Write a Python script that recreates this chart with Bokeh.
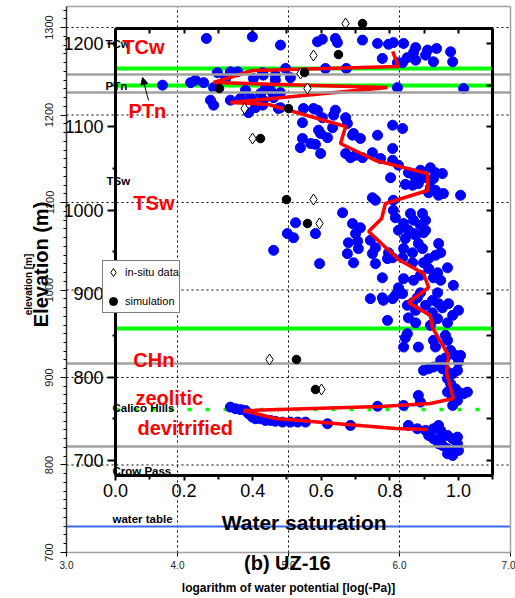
import numpy as np
from bokeh.plotting import figure
from bokeh.models import (Range1d, LinearAxis, FixedTicker, Label, Legend, LegendItem,
                          Arrow, NormalHead, CustomJSTickFormatter, NumeralTickFormatter)
from bokeh.core.properties import value
from bokeh.embed import file_html
from bokeh.resources import INLINE

FONT = "Liberation Sans"

# ---------------- data ----------------
# measured water saturation (foreground axes)
sat_obs = [
    0.265, 0.399, 0.481, 0.589, 0.603, 0.641, 0.647, 0.720, 0.764, 0.796, 0.810, 0.840, 0.875, 0.910,
    0.936, 0.977, 0.778, 0.851, 0.837, 0.869, 0.875, 0.904, 0.927, 0.983, 0.822, 0.673, 0.612, 0.496,
    0.137, 0.219, 0.233, 0.257, 0.286, 0.297, 0.335, 0.356, 0.321, 0.402, 0.431, 0.466, 0.429, 0.510,
    0.466, 0.437, 0.452, 0.461, 0.423, 0.481, 0.379, 0.822, 1.015,
    0.277, 0.286, 0.335, 0.364, 0.394, 0.408, 0.429, 0.461, 0.388, 0.431, 0.475, 0.548, 0.577, 0.589,
    0.641, 0.545, 0.603, 0.636, 0.633, 0.592, 0.671, 0.676, 0.694, 0.764, 0.808, 0.837, 0.598, 0.618,
    0.545, 0.691, 0.714, 0.481, 0.408,
    0.539, 0.569, 0.583, 0.598, 0.671, 0.685, 0.700, 0.720, 0.808, 0.749, 0.773, 0.808, 0.825, 0.802,
    0.889, 0.918, 0.933, 0.953, 0.898, 0.927, 0.845, 0.866, 0.883, 0.918, 0.933, 0.913, 0.942, 0.956,
    1.006, 0.749, 0.758, 0.810, 0.854, 0.869,
    0.662, 0.810, 0.816, 0.860, 0.869, 0.895, 0.904, 0.840, 0.889, 0.691, 0.714, 0.525, 0.501, 0.519,
    0.583, 0.461, 0.595, 0.700, 0.706, 0.679, 0.708, 0.676, 0.743, 0.758, 0.749, 0.694, 0.758, 0.793,
    0.854, 0.825, 0.869, 0.904, 0.845, 0.883, 0.942, 0.840, 0.866, 0.895, 0.948, 0.796, 0.808, 0.837,
    0.875, 0.898, 0.913, 0.933, 0.866, 0.898, 0.913, 0.939, 0.968, 0.889, 0.927, 0.948, 0.985, 0.869,
    0.840, 0.778, 0.825, 0.837, 0.816, 0.778, 0.743, 0.939, 0.889, 0.880,
    0.781, 0.808, 0.851, 0.866, 0.875, 0.904, 0.924, 0.942, 0.953, 0.971, 0.924, 1.000, 0.983, 0.968,
    0.939, 0.918, 0.854, 0.875, 0.793, 0.851, 0.845, 0.840, 0.883, 0.927, 0.933, 0.962, 0.968, 0.977,
    0.991, 1.006, 1.000, 0.962, 0.948, 0.953, 0.968, 0.983, 0.997, 0.898, 0.913, 0.927, 0.968, 0.977,
    0.991, 1.000, 1.015, 1.026, 0.968, 0.983, 0.997, 0.883, 0.889,
    0.840, 0.764, 0.983, 0.335, 0.350, 0.364, 0.379, 0.388, 0.399, 0.408, 0.423, 0.437, 0.452, 0.466,
    0.487, 0.510, 0.531, 0.554, 0.618, 0.685, 0.854, 0.880, 0.904, 0.927, 0.942, 0.948, 0.913, 0.927,
    0.948, 0.942, 0.968, 0.983, 0.997, 0.953, 0.968, 0.997, 0.983, 1.000, 0.968, 0.983,
]
elev_obs = [
    1206, 1208, 1198, 1202, 1205, 1206, 1201, 1204, 1200, 1199, 1201, 1200, 1195, 1192,
    1194, 1190, 1182, 1183, 1177, 1189, 1180, 1186, 1178, 1178, 1177, 1170, 1170, 1170,
    1150, 1153, 1156, 1153, 1147, 1165, 1166, 1166, 1158, 1158, 1162, 1162, 1165, 1159,
    1156, 1146, 1144, 1139, 1140, 1141, 1144, 1147, 1146,
    1132, 1126, 1132, 1134, 1135, 1129, 1126, 1135, 1117, 1132, 1122, 1122, 1122, 1120,
    1120, 1105, 1111, 1114, 1099, 1096, 1111, 1104, 1092, 1090, 1102, 1098, 1092, 1087,
    1086, 1090, 1086, 1123, 1123,
    1075, 1080, 1079, 1068, 1068, 1063, 1066, 1063, 1074, 1069, 1062, 1060, 1054, 1039,
    1048, 1051, 1045, 1044, 1039, 1038, 1031, 1030, 1032, 1027, 1024, 1021, 1018, 1020,
    1018, 1015, 1012, 1012, 1045, 1042,
    997, 1000, 991, 996, 988, 996, 988, 984, 982, 984, 979, 985, 972, 967,
    972, 952, 936, 972, 963, 961, 954, 948, 964, 955, 948, 937, 936, 942,
    976, 976, 972, 976, 966, 960, 960, 954, 949, 954, 949, 949, 943, 943,
    970, 973, 942, 946, 937, 937, 930, 925, 931, 922, 919, 916, 910, 916,
    918, 919, 907, 900, 898, 895, 894, 901, 901, 895,
    892, 894, 886, 889, 880, 886, 892, 888, 883, 888, 877, 880, 874, 865,
    870, 862, 871, 865, 868, 852, 847, 836, 836, 844, 836, 850, 844, 832,
    826, 826, 818, 823, 820, 810, 806, 804, 808, 808, 810, 812, 798, 792,
    786, 782, 780, 782, 782, 776, 772, 778, 770,
    766, 765, 766, 764, 762, 761, 760, 756, 752, 750, 750, 748, 748, 747,
    746, 746, 746, 746, 744, 742, 742, 738, 736, 738, 742, 736, 730, 726,
    726, 720, 730, 726, 728, 718, 714, 720, 712, 712, 708, 706,
]

# simulated saturation profile (foreground axes)
sat_sim = [0.808, 0.825, 0.399, 0.286, 0.793, 0.335, 0.446, 0.671, 0.656, 0.758, 0.910, 0.910,
           0.787, 0.776, 0.738, 0.825, 0.898, 0.913, 0.854, 0.918, 0.924, 0.971, 0.965, 0.985,
           0.918, 0.773, 0.373, 0.466, 0.816, 0.910]
elev_sim = [1190.4, 1172.4, 1167.6, 1153.2, 1147.2, 1129.2, 1126.8, 1100.4, 1080.0, 1059.7, 1044.1, 1023.7,
            1008.1, 990.1, 974.5, 941.0, 924.2, 907.4, 889.4, 873.8, 859.4, 825.9, 805.5, 774.3,
            768.3, 764.7, 759.9, 750.3, 738.3, 737.1]

# water potential (background axes)
logpot_insitu = [5.514, 5.225, 5.108, 5.171, 4.604, 4.676, 5.225, 5.279, 4.829, 5.297]
elev_insitu = [1304.6, 1268.0, 1247.4, 1230.3, 1207.4, 1173.1, 1103.4, 1076.0, 920.6, 886.3]
logpot_simulated = [5.667, 5.450, 5.144, 4.378, 5.000, 4.748, 4.982, 5.171, 5.072, 5.243]
elev_simulated = [1304.6, 1269.1, 1248.6, 1230.3, 1207.4, 1173.1, 1103.4, 1076.0, 920.6, 886.3]

# unit boundaries
gray_bounds = [1246.3, 1225.7, 916.0, 821.1]        # background elevation
water_table = [729.7]                               # background elevation
green_bounds = [1170.0, 1149.6, 858.2]              # foreground elevation
green_dotted = [761.1]                              # foreground elevation

unit_names = ["TCw", "PTn", "TSw", "Calico Hills", "Crow Pass", "water table"]
unit_x = [3.351, 3.351, 3.36, 3.414, 3.414, 3.414]
unit_y = [1281.7, 1233.7, 1125.1, 865.7, 792.6, 737.7]

red_names = ["TCw", "PTn", "TSw", "CHn", "zeolitic", "devitrified"]
red_x = [0.020, 0.038, 0.052, 0.052, 0.058, 0.064]
red_y = [1196.3, 1119.6, 1009.3, 819.9, 774.3, 739.5]

# axes
bg_x_ticks = [3.0, 4.0, 5.0, 6.0, 7.0]
bg_y_ticks = [700, 800, 900, 1000, 1100, 1200, 1300]
bg_y_minor = list(range(700, 1330, 10))
bg_x_box = (3.0, 7.0)
bg_y_box = (700, 1324)
bg_x_view = (2.4054, 7.0450)
bg_y_view = (647.4, 1330.9)
fg_x_ticks = [0.0, 0.2, 0.4, 0.6, 0.8, 1.0]
fg_x_minor = [0.1, 0.3, 0.5, 0.7, 0.9, 1.1]
fg_y_ticks = [700, 800, 900, 1000, 1100, 1200]
fg_y_minor = [750, 850, 950, 1050, 1150]
fg_x_box = (0.0, 1.1)
fg_y_box = (682, 1218)
fg_x_view = (-0.3353, 1.1662)
fg_y_view = (534.5, 1251.5)

# ---------------- figure ----------------
p = figure(width=515, height=598, x_range=Range1d(*bg_x_view), y_range=Range1d(*bg_y_view),
           output_backend="svg", toolbar_location=None, title=None,
           x_axis_location=None, y_axis_location=None,
           min_border_left=0, min_border_right=0, min_border_top=0, min_border_bottom=0)
p.extra_x_ranges = {"sat": Range1d(*fg_x_view)}
p.extra_y_ranges = {"elev": Range1d(*fg_y_view)}
p.background_fill_color = "white"
p.border_fill_color = "white"
p.outline_line_color = None
p.grid.visible = False

fg = dict(x_range_name="sat", y_range_name="elev")
no_labels = CustomJSTickFormatter(code="return ''")

# background dotted grid
gx = [t for t in bg_x_ticks if bg_x_box[0] < t < bg_x_box[1]]
gy = [t for t in bg_y_ticks if bg_y_box[0] < t < bg_y_box[1]]
p.segment(x0=gx, x1=gx, y0=[bg_y_box[0]] * len(gx), y1=[bg_y_box[1]] * len(gx),
          line_color="black", line_dash="2 3", line_width=1, level="underlay")
p.segment(x0=[bg_x_box[0]] * len(gy), x1=[bg_x_box[1]] * len(gy), y0=gy, y1=gy,
          line_color="black", line_dash="2 3", line_width=1, level="underlay")

# background axes
bl = LinearAxis(fixed_location=bg_x_box[0], bounds=bg_y_box,
                ticker=FixedTicker(ticks=bg_y_ticks, minor_ticks=bg_y_minor),
                major_label_orientation="vertical", axis_line_color="#333333", axis_line_width=1.5,
                major_tick_out=6, major_tick_in=0, minor_tick_out=3, minor_tick_in=0,
                major_label_standoff=7, major_label_text_font=FONT,
                major_label_text_font_size="11px", major_label_text_color="#222222")
bb = LinearAxis(fixed_location=bg_y_box[0], bounds=bg_x_box,
                ticker=FixedTicker(ticks=bg_x_ticks, minor_ticks=[]),
                formatter=NumeralTickFormatter(format="0.0"),
                axis_line_color="#a0a0a0", axis_line_width=1.5,
                major_tick_out=4, major_tick_in=0, major_label_standoff=5,
                major_label_text_font=FONT, major_label_text_font_size="10px",
                major_label_text_color="#222222")
btop = LinearAxis(fixed_location=bg_y_box[1], bounds=bg_x_box,
                  ticker=FixedTicker(ticks=[], minor_ticks=[]), formatter=no_labels,
                  axis_line_color="#a0a0a0", axis_line_width=1.5)
bright = LinearAxis(fixed_location=bg_x_box[1], bounds=bg_y_box,
                    ticker=FixedTicker(ticks=[], minor_ticks=[]), formatter=no_labels,
                    axis_line_color="#a0a0a0", axis_line_width=1.5)
p.add_layout(bl, "left")
p.add_layout(bb, "below")
p.add_layout(btop, "above")
p.add_layout(bright, "right")

# foreground axes
common = dict(x_range_name="sat", y_range_name="elev", axis_line_width=3, axis_line_color="black",
              major_tick_line_width=2, minor_tick_line_width=2, major_label_text_font=FONT,
              major_label_text_color="black")
fl = LinearAxis(fixed_location=fg_x_box[0], bounds=fg_y_box,
                ticker=FixedTicker(ticks=fg_y_ticks, minor_ticks=fg_y_minor),
                major_tick_out=8, major_tick_in=0, minor_tick_out=3, minor_tick_in=0,
                major_label_standoff=4, major_label_text_font_size="18px", **common)
fr = LinearAxis(fixed_location=fg_x_box[1], bounds=fg_y_box,
                ticker=FixedTicker(ticks=fg_y_ticks + fg_y_minor, minor_ticks=[]),
                major_tick_out=0, major_tick_in=6, minor_tick_out=0, minor_tick_in=0,
                formatter=no_labels, **common)
fb = LinearAxis(fixed_location=fg_y_box[0], bounds=fg_x_box,
                ticker=FixedTicker(ticks=fg_x_ticks, minor_ticks=fg_x_minor),
                formatter=NumeralTickFormatter(format="0.0"),
                major_tick_out=5, major_tick_in=0, minor_tick_out=4, minor_tick_in=0,
                major_label_standoff=4, major_label_text_font_size="18px", **common)
ft = LinearAxis(fixed_location=fg_y_box[1], bounds=fg_x_box,
                ticker=FixedTicker(ticks=fg_x_ticks + fg_x_minor, minor_ticks=[]),
                major_tick_out=0, major_tick_in=5, minor_tick_out=0, minor_tick_in=0,
                formatter=no_labels, **common)
p.add_layout(fl, "left")
p.add_layout(fr, "right")
p.add_layout(fb, "below")
p.add_layout(ft, "above")

# green unit lines (foreground)
n = len(green_bounds)
p.segment(x0=[fg_x_box[0]] * n, x1=[fg_x_box[1]] * n, y0=green_bounds, y1=green_bounds,
          line_color="#00ff00", line_width=4, **fg)
p.segment(x0=[fg_x_box[0]], x1=[fg_x_box[1]], y0=green_dotted, y1=green_dotted,
          line_color="#00ff00", line_width=3.5, line_dash="4 14", **fg)

# observed saturation
p.scatter(sat_obs, elev_obs, size=10, fill_color="#0000ff", line_color="#0000ff", **fg)
# simulated saturation
p.line(sat_sim, elev_sim, line_color="#ff0000", line_width=3.5, **fg)

# gray boundaries and water table (background)
m = len(gray_bounds)
p.segment(x0=[bg_x_box[0]] * m, x1=[bg_x_box[1]] * m, y0=gray_bounds, y1=gray_bounds,
          line_color="#a0a0a0", line_width=2.5)
p.segment(x0=[bg_x_box[0]], x1=[bg_x_box[1]], y0=water_table, y1=water_table,
          line_color="#3a6af0", line_width=2)

# water potential points (background)
r_dia = p.scatter(logpot_insitu, elev_insitu, marker="diamond", size=11,
                  fill_color="white", line_color="black", line_width=1)
r_cir = p.scatter(logpot_simulated, elev_simulated, marker="circle", size=8.5,
                  fill_color="black", line_color="black")

# unit names
p.text(unit_x, unit_y, text=unit_names, text_font=value(FONT), text_font_style="bold",
       text_font_size="11.5px", text_color="black", text_align="left", text_baseline="middle")
p.text(red_x, red_y, text=red_names, text_font=value(FONT), text_font_style="bold",
       text_font_size="20px", text_color="#ff0000", text_align="left", text_baseline="middle", **fg)

p.add_layout(Arrow(end=NormalHead(size=7, fill_color="black", line_color="black"),
                   x_start=3.739, y_start=1216.6, x_end=3.685, y_end=1242.9,
                   line_color="black", line_width=1))

legend = Legend(items=[LegendItem(label="in-situ data", renderers=[r_dia]),
                       LegendItem(label="simulation", renderers=[r_cir])],
                location=(102, 285), border_line_color="black", border_line_width=1,
                background_fill_color="white", background_fill_alpha=1,
                label_text_font=FONT, label_text_font_size="11px", label_text_color="black",
                glyph_width=20, glyph_height=22, label_height=22, label_standoff=2,
                spacing=7, padding=0, margin=0)
p.add_layout(legend)

# axis titles
lab = dict(text_align="center", text_baseline="middle", text_font=FONT,
           text_font_style="bold", text_color="black")
p.add_layout(Label(x=5.0, y=658.9, text="logarithm of water potential [log(-Pa)]",
                   text_font_size="12px", **lab))
p.add_layout(Label(x=2.658, y=1006.3, text="elevation [m]", angle=np.pi / 2,
                   text_font_size="10px", **lab))
p.add_layout(Label(x=-0.216, y=935, text="Elevation (m)", angle=np.pi / 2,
                   text_font_size="20px", **lab, **fg))
p.add_layout(Label(x=0.55, y=625.6, text="Water saturation",
                   text_font_size="21px", **lab, **fg))
p.add_layout(Label(x=0.501, y=576.5, text="(b) UZ-16",
                   text_font_size="20px", **lab, **fg))

open("out.html", "w").write(file_html(p, INLINE))
